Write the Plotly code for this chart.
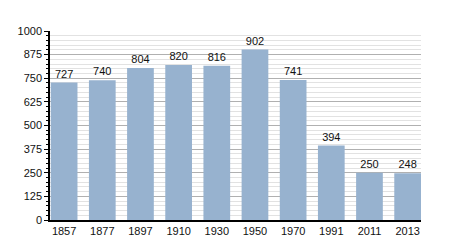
import plotly.graph_objects as go

years = ["1857", "1877", "1897", "1910", "1930", "1950", "1970", "1991", "2011", "2013"]
population = [727, 740, 804, 820, 816, 902, 741, 394, 250, 248]
y_ticks = [0, 125, 250, 375, 500, 625, 750, 875, 1000]

bar_w = 0.7

fig = go.Figure(go.Bar(
    x=list(range(len(years))), y=population,
    marker=dict(color="#97b2cf", line=dict(width=0)),
    text=[str(v) for v in population], textposition="outside",
    textfont=dict(size=11, color="#111"),
    cliponaxis=False, width=bar_w,
))

fig.update_layout(
    width=450, height=250,
    margin=dict(l=50, r=29, t=31, b=30),
    paper_bgcolor="white", plot_bgcolor="white",
    font=dict(family="Liberation Sans, Arial, sans-serif", size=11, color="#111"),
    showlegend=False,
)
fig.update_xaxes(
    range=[-bar_w / 2 - 0.02, len(years) - 1 + bar_w / 2],
    tickvals=list(range(len(years))), ticktext=years,
    showline=True, linecolor="#000", linewidth=1.5,
    ticks="", showgrid=False, tickfont=dict(size=11), zeroline=False,
)
fig.update_yaxes(
    range=[0, 1000], tickvals=y_ticks, showline=True, linecolor="#000", linewidth=1.5,
    ticks="outside", ticklen=4, tickcolor="#000",
    showgrid=True, gridcolor="#b0b0b0", gridwidth=1, zeroline=False,
    minor=dict(dtick=25, showgrid=True, gridcolor="#e2e2e2", gridwidth=1,
               ticks="outside", ticklen=2, tickcolor="#000"),
    tickfont=dict(size=11),
)

fig.write_html("out.html")
